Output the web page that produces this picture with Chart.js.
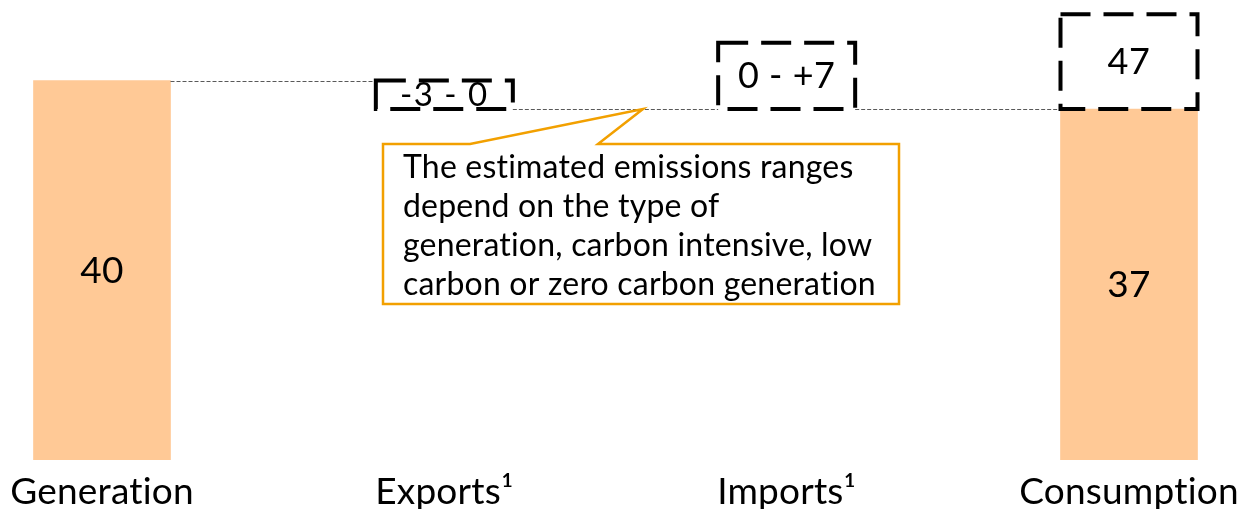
<!DOCTYPE html>
<html lang="en">
<head>
<meta charset="UTF-8">
<title>Emissions waterfall</title>
<style>
  html, body { margin: 0; padding: 0; background: #fff; overflow: hidden; }
  #wrap { width: 1239px; height: 524px; }
</style>
</head>
<body>
<div id="wrap"><canvas id="myChart"></canvas></div>

<script src="https://cdn.jsdelivr.net/npm/chart.js"></script>
<script>
  // data
  const categories = ['Generation', 'Exports\u00B9', 'Imports\u00B9', 'Consumption'];
  const solidValues = [40, null, null, 37];
  const rangeLow = [null, 37, 37, 37];
  const rangeHigh = [null, 40, 44, 47];
  const rangeLabels = [null, '-3 - 0', '0 - +7', '47'];
  const stepLevels = [40, 37, 37];   // dashed connector between category i and i+1
  const calloutLines = [
    'The estimated emissions ranges',
    'depend on the type of',
    'generation, carbon intensive, low',
    'carbon or zero carbon generation'
  ];

  const FONT = 'Lato, "Open Sans", sans-serif';

  // a tiny letter spacing keeps Chrome from using the "ti" ligature
  const noLigatures = {
    id: 'noLigatures',
    beforeLayout(chart) { chart.ctx.letterSpacing = '0.2px'; },
    beforeDraw(chart) { chart.ctx.letterSpacing = '0.2px'; }
  };

  const waterfallDecor = {
    id: 'waterfallDecor',
    afterDatasetsDraw(chart) {
      const ctx = chart.ctx;
      const y = chart.scales.y;
      const solid = chart.getDatasetMeta(0).data;
      const range = chart.getDatasetMeta(1).data;

      const barOf = i => (solidValues[i] != null ? solid[i] : range[i]);

      // thin grey connectors
      ctx.save();
      ctx.strokeStyle = '#595959';
      ctx.lineWidth = 1;
      ctx.setLineDash([4, 2]);
      stepLevels.forEach((lvl, i) => {
        const a = barOf(i), b = barOf(i + 1);
        const py = Math.round(y.getPixelForValue(lvl)) + 0.5;
        ctx.beginPath();
        ctx.moveTo(a.x + a.width / 2, py);
        ctx.lineTo(b.x - b.width / 2, py);
        ctx.stroke();
      });
      ctx.restore();

      // dashed range boxes
      ctx.save();
      ctx.strokeStyle = '#000';
      ctx.lineWidth = 4;
      ctx.setLineDash([30, 13]);
      range.forEach((el, i) => {
        if (rangeHigh[i] == null) return;
        const l = el.x - el.width / 2, r = el.x + el.width / 2;
        const t = Math.min(el.y, el.base), btm = Math.max(el.y, el.base);
        ctx.beginPath();
        ctx.moveTo(l, t);
        ctx.lineTo(r, t);
        ctx.lineTo(r, btm);
        ctx.lineTo(l, btm);
        ctx.closePath();
        ctx.stroke();
      });
      ctx.restore();

      // value labels
      ctx.save();
      ctx.fillStyle = '#000';
      ctx.textAlign = 'center';
      ctx.textBaseline = 'middle';
      ctx.font = '37px ' + FONT;
      solid.forEach((el, i) => {
        if (solidValues[i] == null) return;
        ctx.fillText(String(solidValues[i]), el.x, (el.y + el.base) / 2 + 1);
      });
      range.forEach((el, i) => {
        if (!rangeLabels[i]) return;
        ctx.font = (i === 1 ? '33px ' : '36px ') + FONT;
        ctx.letterSpacing = i === 1 ? '1.5px' : '0.5px';
        ctx.fillText(rangeLabels[i], el.x, (el.y + el.base) / 2 + 1);
      });
      ctx.restore();

      // callout
      const bx = 383, by = 144, bw = 516, bh = 160;
      const tipX = 643, tipY = y.getPixelForValue(stepLevels[1]);
      ctx.save();
      ctx.beginPath();
      ctx.moveTo(bx, by);
      ctx.lineTo(470, by);
      ctx.lineTo(tipX, tipY);
      ctx.lineTo(598, by);
      ctx.lineTo(bx + bw, by);
      ctx.lineTo(bx + bw, by + bh);
      ctx.lineTo(bx, by + bh);
      ctx.closePath();
      ctx.fillStyle = '#fff';
      ctx.fill();
      ctx.strokeStyle = '#F2A000';
      ctx.lineWidth = 2.5;
      ctx.lineJoin = 'miter';
      ctx.stroke();
      ctx.fillStyle = '#000';
      ctx.font = '32px ' + FONT;
      ctx.textAlign = 'left';
      ctx.textBaseline = 'alphabetic';
      calloutLines.forEach((line, k) => {
        ctx.fillText(line, 403, 178 + k * 39);
      });
      ctx.restore();
    }
  };

  new Chart(document.getElementById('myChart'), {
    type: 'bar',
    data: {
      labels: categories,
      datasets: [
        {
          label: 'solid',
          data: solidValues,
          backgroundColor: '#FFC996',
          borderWidth: 0,
          barThickness: 137,
          grouped: false,
          clip: false
        },
        {
          label: 'range',
          data: rangeLow.map((lo, i) => (lo == null ? null : [lo, rangeHigh[i]])),
          backgroundColor: 'rgba(0,0,0,0)',
          borderWidth: 0,
          barThickness: 137,
          grouped: false,
          clip: false
        }
      ]
    },
    options: {
      responsive: true,
      maintainAspectRatio: false,
      animation: false,
      layout: { padding: { left: 102, right: 110, top: 0, bottom: 0 } },
      plugins: { legend: { display: false }, tooltip: { enabled: false } },
      scales: {
        x: {
          offset: false,
          grid: { display: false, drawTicks: false },
          border: { display: false },
          ticks: {
            color: '#000',
            padding: 10,
            maxRotation: 0,
            autoSkip: false,
            font: { family: FONT, size: 37, lineHeight: 1.2 }
          },
          // let the layout padding alone decide where the end categories sit
          afterFit(scale) {
            scale.paddingLeft = 0;
            scale.paddingRight = 0;
          }
        },
        y: {
          display: false,
          min: 0,
          max: 48.5
        }
      }
    },
    plugins: [noLigatures, waterfallDecor]
  });
</script>
</body>
</html>
